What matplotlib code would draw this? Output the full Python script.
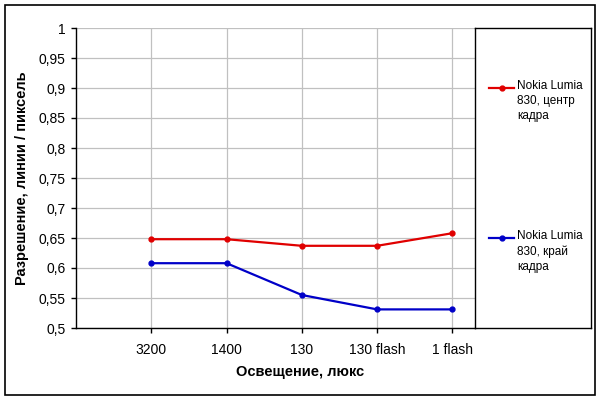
import numpy as np
import matplotlib
matplotlib.use("Agg")
import matplotlib.pyplot as plt
from matplotlib.patches import Rectangle
from matplotlib.ticker import FuncFormatter, MultipleLocator

plt.rcParams["font.family"] = ["Liberation Sans", "DejaVu Sans"]

categories = ["3200", "1400", "130", "130 flash", "1 flash"]
center_vals = [0.648, 0.648, 0.637, 0.637, 0.658]
edge_vals = [0.608, 0.608, 0.555, 0.531, 0.531]
labels = ["Nokia Lumia\n830, центр\nкадра", "Nokia Lumia\n830, край\nкадра"]
colors = ["#e00000", "#0000c8"]

W, H = 600, 400
fig = plt.figure(figsize=(6, 4), dpi=100)

# outer frame of the chart
fig.patches.append(Rectangle((5 / W, 5 / H), 590 / W, 390 / H, transform=fig.transFigure,
                             fill=False, edgecolor="black", linewidth=1.2))

ax = fig.add_axes([76 / W, 72 / H, 399 / W, 300 / H])
x = np.arange(len(categories))
for vals, c in zip([center_vals, edge_vals], colors):
    ax.plot(x, vals, color=c, linewidth=1.6, marker="o", markersize=3.5, zorder=3)

ax.set_xlim(-1, 4.3)
ax.set_ylim(0.5, 1.0)
ax.set_xticks(x)
ax.set_xticklabels(categories)
ax.yaxis.set_major_locator(MultipleLocator(0.05))
ax.yaxis.set_major_formatter(FuncFormatter(lambda v, p: f"{v:.2f}".rstrip("0").rstrip(".").replace(".", ",")))
ax.grid(True, color="#c0c0c0", linewidth=0.9)
ax.set_axisbelow(True)
for s in ["top", "right"]:
    ax.spines[s].set_visible(False)
for s in ["left", "bottom"]:
    ax.spines[s].set_linewidth(1.0)
ax.tick_params(axis="both", length=3.5, width=1.0, labelsize=10, pad=4)
ax.tick_params(axis="x", pad=7)

fig.text(300 / W, 1 - 372 / H, "Освещение, люкс", ha="center", va="center",
         fontsize=10.5, fontweight="bold")
fig.text(22 / W, 1 - 178 / H, "Разрешение, линии / пиксель", ha="center", va="center",
         rotation=90, fontsize=10.5, fontweight="bold")

# legend box
lax = fig.add_axes([475 / W, 72 / H, 116 / W, 300 / H])
lax.set_xlim(0, 116)
lax.set_ylim(328, 28)
lax.set_xticks([])
lax.set_yticks([])
for s in lax.spines.values():
    s.set_linewidth(1.0)
for lbl, c, yy in zip(labels, colors, [88, 238]):
    lax.plot([14, 39], [yy, yy], color=c, linewidth=1.6)
    lax.plot([26.5], [yy], color=c, marker="o", markersize=3.5)
    lax.text(42, yy - 7.5, lbl, ha="left", va="top", fontsize=8.5, linespacing=1.3)

fig.savefig("out.png", dpi=100)
